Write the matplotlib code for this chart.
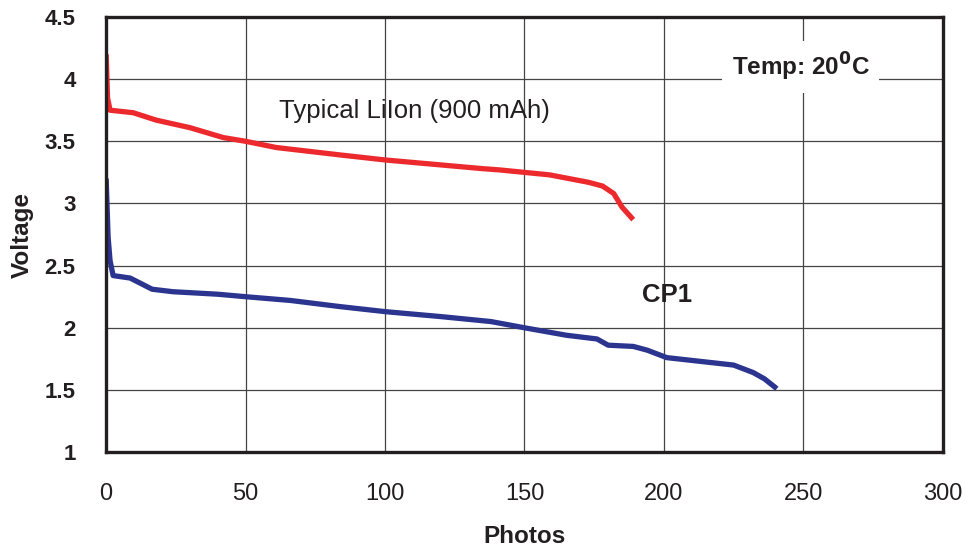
import matplotlib
matplotlib.use("Agg")
import matplotlib.pyplot as plt

plt.rcParams["font.family"] = ["Liberation Sans", "DejaVu Sans"]

# ---------------------------------------------------------------------------
# discharge curves
# ---------------------------------------------------------------------------
liion_photos = [0, 0.5, 1.4, 9.7, 18, 30, 42, 50, 61, 84, 100, 120, 135,
                141, 150, 159, 173, 178, 182, 185, 189]
liion_volts = [4.2, 3.85, 3.75, 3.73, 3.67, 3.61, 3.53, 3.50, 3.45, 3.39,
               3.35, 3.31, 3.28, 3.27, 3.25, 3.23, 3.17, 3.14, 3.08, 2.97, 2.87]

cp1_photos = [0, 0.7, 1.4, 2.5, 8.6, 16.5, 24, 40, 50, 66, 84, 100, 120,
              138, 150, 165, 176, 180, 189, 194, 201, 213, 225, 232, 236, 240.5]
cp1_volts = [3.2, 2.73, 2.54, 2.42, 2.40, 2.31, 2.29, 2.27, 2.25, 2.22,
             2.17, 2.13, 2.09, 2.05, 2.00, 1.94, 1.91, 1.86, 1.85, 1.82,
             1.76, 1.73, 1.70, 1.64, 1.59, 1.51]

x_ticks = [0, 50, 100, 150, 200, 250, 300]
y_ticks = [1, 1.5, 2, 2.5, 3, 3.5, 4, 4.5]
y_tick_labels = ["1", "1.5", "2", "2.5", "3", "3.5", "4", "4.5"]

fig = plt.figure(figsize=(9.65, 5.48), dpi=100)
ax = fig.add_axes([0.110, 0.175, 0.867, 0.794])

ax.plot(liion_photos, liion_volts, color="#ec2a2e", lw=3.8, solid_capstyle="butt")
ax.plot(cp1_photos, cp1_volts, color="#2b3590", lw=3.8, solid_capstyle="butt")

ax.set_xlim(0, 300)
ax.set_ylim(1, 4.5)
ax.set_xticks(x_ticks)
ax.set_yticks(y_ticks)
ax.set_yticklabels(y_tick_labels, fontweight="bold")
ax.tick_params(axis="x", labelsize=17, length=0, pad=22, colors="#231f20")
ax.tick_params(axis="y", labelsize=16, length=0, pad=22, colors="#231f20")
ax.grid(True, color="#444444", lw=0.9)
ax.set_axisbelow(True)
for sp in ax.spines.values():
    sp.set_linewidth(2.4)
    sp.set_color("#231f20")

ax.set_xlabel("Photos", fontsize=17.5, fontweight="bold", labelpad=15, color="#231f20")
ax.set_ylabel("Voltage", fontsize=17.5, fontweight="bold", labelpad=8, color="#231f20")

ax.text(110.5, 3.74, "Typical LiIon (900 mAh)", fontsize=18.5, ha="center",
        va="center", color="#231f20")
ax.text(201, 2.26, "CP1", fontsize=18.5, fontweight="bold", ha="center",
        va="center", color="#231f20")
ax.text(249, 4.1, r"Temp: 20$^{\mathbf{0}}$C", fontsize=17.5, fontweight="bold",
        ha="center", va="center", color="#231f20",
        bbox=dict(facecolor="white", edgecolor="none", pad=7))

fig.savefig("out.png", dpi=100)
